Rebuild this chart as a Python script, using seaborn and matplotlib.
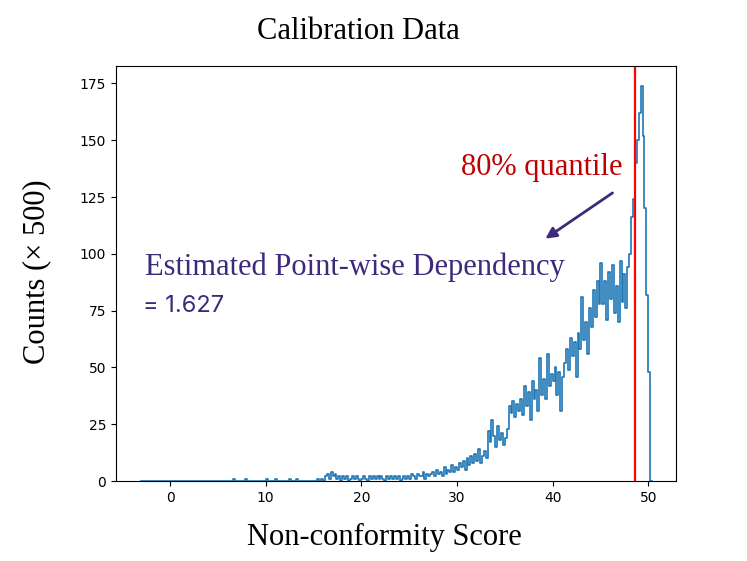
import numpy as np
import pandas as pd
import matplotlib.pyplot as plt
import seaborn as sns

# Histograma de las puntuaciones de no conformidad (cuentas en unidades de 500)
bin_width = 0.2
first_edge = -3.0

# -3.0 .. 15.4  (casi todo vacío, algún caso suelto)
counts_tail = [
    0, 0, 0, 0, 0, 0, 0, 0, 0, 0, 0, 0, 0, 0, 0, 0, 0, 0, 0, 0,
    0, 0, 0, 0, 0, 0, 0, 0, 0, 0, 0, 0, 0, 0, 0, 0, 0, 0, 0, 0,
    0, 0, 0, 0, 0, 0, 0, 0, 1, 0, 0, 0, 0, 0, 1, 0, 0, 0, 0, 0,
    0, 0, 0, 0, 0, 1, 0, 0, 0, 0, 1, 0, 0, 0, 0, 0, 0, 1, 0, 0,
    0, 1, 0, 0, 0, 0, 0, 0, 0, 0, 0, 0,
]
# 15.4 .. 25.0
counts_15_25 = [
    1, 0, 1, 0, 2, 3, 1, 4, 2, 3, 1, 2, 0, 2, 1, 2, 0, 1, 2, 1,
    2, 1, 0, 1, 2, 1, 0, 2, 1, 2, 1, 2, 1, 2, 1, 0, 2, 1, 2, 1,
    2, 1, 2, 0, 1, 2, 1, 2,
]
# 25.0 .. 30.0
counts_25_30 = [1, 3, 2, 1, 3, 2, 2, 4, 1, 3, 2, 3, 4, 2, 5, 3, 4, 2, 6, 3,
                5, 4, 7, 4, 6]
# 30.0 .. 35.0
counts_30_35 = [5, 8, 6, 9, 5, 10, 7, 11, 8, 12, 9, 14, 8, 11, 13, 10, 22, 17,
                27, 20, 15, 24, 18, 21, 16]
# 35.0 .. 40.0
counts_35_40 = [19, 23, 33, 30, 35, 28, 34, 31, 36, 29, 42, 33, 39, 27, 44, 36,
                40, 31, 54, 38, 45, 36, 56, 42, 47]
# 40.0 .. 45.0
counts_40_45 = [44, 50, 38, 48, 31, 46, 52, 58, 49, 63, 55, 61, 46, 65, 58, 81,
                62, 70, 56, 76, 68, 84, 72, 88, 78]
# 45.0 .. 48.0
counts_45_48 = [96, 78, 88, 71, 92, 80, 95, 74, 86, 70, 97, 79, 91, 76, 94]
# 48.0 .. 50.4
counts_48_50 = [100, 116, 124, 140, 150, 162, 174, 152, 120, 82, 48, 0]

counts = (counts_tail + counts_15_25 + counts_25_30 + counts_30_35
          + counts_35_40 + counts_40_45 + counts_45_48 + counts_48_50)
edges = first_edge + bin_width * np.arange(len(counts) + 1)
centers = (edges[:-1] + edges[1:]) / 2
df = pd.DataFrame({"score": centers, "count": counts})

quantile_80 = 48.6
pwd_value = 1.627

purple = "#3d2a7c"
serif = "Liberation Serif"

fig = plt.figure(figsize=(7.47, 5.61), dpi=100)
ax = fig.add_axes([0.1553, 0.1426, 0.7497, 0.7398])

sns.histplot(data=df, x="score", weights="count", bins=edges.tolist(),
             element="step", fill=False, color="#1f77b4", linewidth=1.2,
             ax=ax)
ax.axvline(quantile_80, color="red", linewidth=1.6)

ax.set_xlim(-5.65, 52.9)
ax.set_ylim(0, max(counts) * 1.05)
ax.set_yticks([0, 25, 50, 75, 100, 125, 150, 175])
ax.set_xticks([0, 10, 20, 30, 40, 50])

ax.set_xlabel("Non-conformity Score", family=serif, fontsize=22)
ax.set_ylabel("Counts (× 500)", family=serif, fontsize=22)
ax.xaxis.set_label_coords(0.48, -0.10)
ax.yaxis.set_label_coords(-0.115, 0.505)

fig.text(358 / 747, 1 - 39 / 561, "Calibration Data", family=serif,
         fontsize=22, ha="center", va="baseline")

# Anotaciones
ax.text(47.3, 134.5, "80% quantile", family=serif, fontsize=22,
        color="#c00000", ha="right", va="baseline")
ax.annotate("", xy=(39.0, 106.0), xytext=(46.5, 127.5),
            arrowprops=dict(arrowstyle="-|>", color=purple, lw=2,
                            mutation_scale=16))
ax.text(-2.6, 90.5, "Estimated Point-wise Dependency", family=serif,
        fontsize=22, color=purple, ha="left", va="baseline")
ax.text(-2.8, 74.5, f"= {pwd_value}", family="Inter", fontsize=17,
        color=purple, ha="left", va="baseline")

fig.savefig("out.png", dpi=100)
